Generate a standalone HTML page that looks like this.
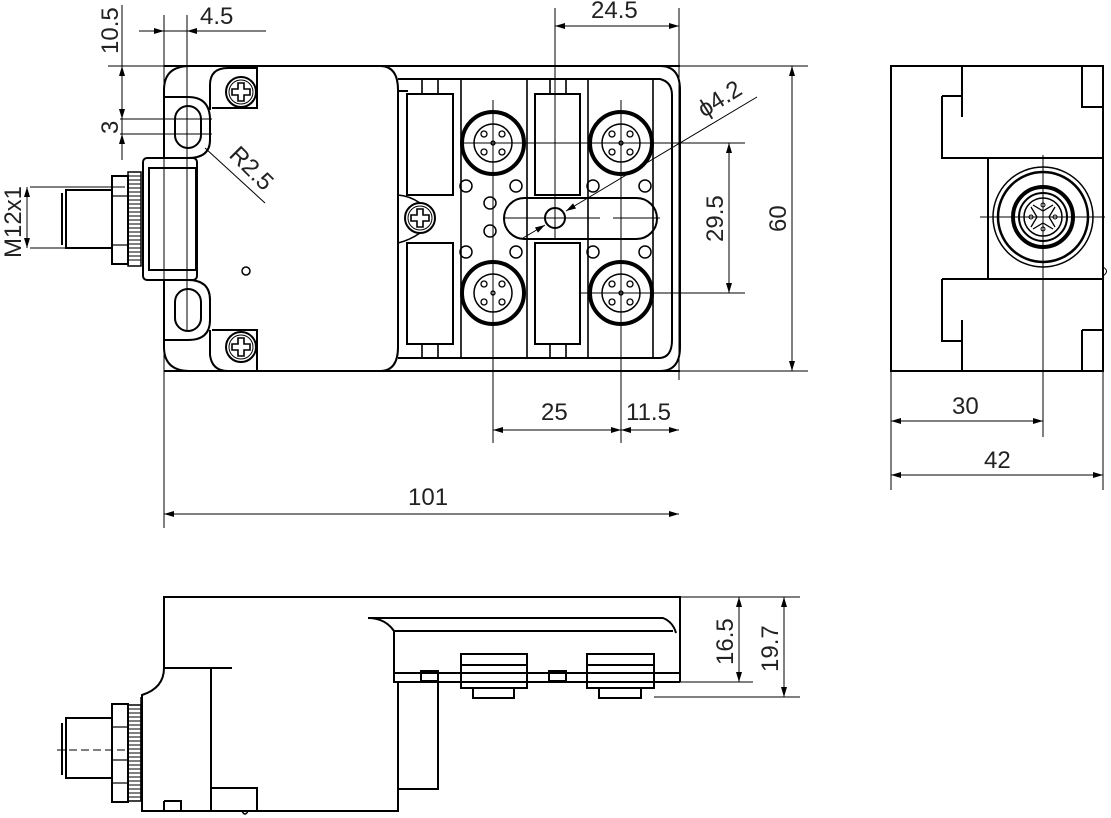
<!DOCTYPE html>
<html><head><meta charset="utf-8"><style>
html,body{margin:0;padding:0;background:#fff;}
svg{display:block;}
text{font-family:"Liberation Sans",sans-serif;font-size:24px;fill:#222;}
</style></head><body>
<svg width="1111" height="818" viewBox="0 0 1111 818" xmlns="http://www.w3.org/2000/svg">
<defs>
<marker id="a" viewBox="0 0 10 6" refX="10" refY="3" markerWidth="10" markerHeight="6" orient="auto-start-reverse" markerUnits="userSpaceOnUse"><path d="M0,0L10,3L0,6z" fill="#000"/></marker>
<g id="conn">
<circle r="31" fill="none" stroke="#000" stroke-width="4"/>
<circle r="19" fill="none" stroke="#000" stroke-width="1.5"/>
<circle cx="-9" cy="-9" r="3" fill="none" stroke="#000" stroke-width="1.3"/>
<circle cx="9" cy="-9" r="3" fill="none" stroke="#000" stroke-width="1.3"/>
<circle cx="-9" cy="9" r="3" fill="none" stroke="#000" stroke-width="1.3"/>
<circle cx="9" cy="9" r="3" fill="none" stroke="#000" stroke-width="1.3"/>
<circle r="2" fill="none" stroke="#000" stroke-width="1.3"/>
</g>
<g id="screw">
<circle r="15" fill="none" stroke="#000" stroke-width="2"/>
<circle r="12" fill="none" stroke="#000" stroke-width="1"/>
<path d="M-3,-9h6v6h6v6h-6v6h-6v-6h-6v-6h6z" fill="none" stroke="#000" stroke-width="1.6"/>
</g>
</defs>
<g fill="none" stroke="#000" stroke-width="2">
<line x1="164" y1="66" x2="680" y2="66"/>
<line x1="164" y1="371" x2="680" y2="371"/>
<path d="M164,90 Q164,66 190,66 M164,90 V158 M164,280 V347 Q164,371 190,371"/>
<path d="M380,66 Q398,66 398,90 V347 Q398,371 380,371"/>
<path d="M164,97 H188 Q210,97 210,120 V140 Q210,158 188,158 H164"/>
<path d="M164,280 H188 Q210,280 210,300 V320 Q210,340 188,340 H164"/>
<rect x="175" y="106" width="26" height="42" rx="13"/>
<rect x="175" y="289" width="26" height="42" rx="13"/>
<path d="M210,110 V85 Q210,68 228,68 H257 V66 M257,66 V70"/>
<path d="M212,108 H257 V70"/>
<path d="M210,330 V355 Q212,371 228,371 M212,330 H257 V371"/>
<circle cx="246" cy="271" r="4" stroke-width="1.5"/>
<rect x="143" y="158" width="54" height="122" rx="4"/>
<rect x="149" y="168" width="47" height="102"/>
<rect x="128" y="172" width="13" height="94" stroke-width="1.5"/>
<path d="M128,172H141" stroke-width="12" stroke-dasharray="1.5,2" transform="rotate(90 134.5 172) translate(0,0)" opacity="0"/>
<rect x="112" y="176" width="16" height="88"/>
<line x1="112" y1="196" x2="128" y2="196" stroke-width="1.2"/><line x1="112" y1="245" x2="128" y2="245" stroke-width="1.2"/>
<rect x="66" y="190" width="46" height="58"/>
<line x1="62" y1="193" x2="62" y2="245"/>
<path d="M660,66 Q680,66 680,90 V347 Q680,371 660,371"/>
<path d="M398,79 H660 Q672,82 672,95 V340 Q672,357 660,358 H398" stroke-width="2"/>
<line x1="398" y1="91" x2="408" y2="91"/>
<rect x="407" y="94" width="46" height="101"/>
<rect x="535" y="94" width="45" height="101"/>
<rect x="407" y="243" width="46" height="101"/>
<rect x="535" y="243" width="45" height="101"/>
<path d="M422,79V94M438,79V94M550,79V94M566,79V94M422,344V358M438,344V358M550,344V358M566,344V358" stroke-width="1.6"/>
<path d="M461,79V358M527,79V358M588,79V358M653,79V358" stroke-width="1.6"/>
<path d="M398,195 Q410,196 420,203 M398,243 Q410,240 420,233" stroke-width="1.5"/>
<rect x="504" y="198" width="153" height="41" rx="20.5"/>
<circle cx="555" cy="218" r="10"/>
<g stroke-width="1.5">
<circle cx="466" cy="186" r="6"/><circle cx="516" cy="186" r="6"/><circle cx="593" cy="186" r="6"/><circle cx="645" cy="186" r="6"/>
<circle cx="490" cy="203" r="6"/><circle cx="490" cy="231" r="6"/>
<circle cx="466" cy="252" r="6"/><circle cx="516" cy="252" r="6"/><circle cx="593" cy="252" r="6"/><circle cx="645" cy="252" r="6"/>
</g>
</g>
<g stroke="#000" stroke-width="1">
<path d="M128,176H141M128,180H141M128,184H141M128,188H141M128,192H141M128,196H141M128,200H141M128,204H141M128,208H141M128,212H141M128,216H141M128,220H141M128,224H141M128,228H141M128,232H141M128,236H141M128,240H141M128,244H141M128,248H141M128,252H141M128,256H141M128,260H141"/>
<path d="M128,709H141M128,713H141M128,717H141M128,721H141M128,725H141M128,729H141M128,733H141M128,737H141M128,741H141M128,745H141M128,749H141M128,753H141M128,757H141M128,761H141M128,765H141M128,769H141M128,773H141M128,777H141M128,781H141M128,785H141M128,789H141M128,793H141M128,797H141"/>
</g>
<use href="#conn" x="493" y="143"/><use href="#conn" x="621" y="143"/>
<use href="#conn" x="493" y="293"/><use href="#conn" x="621" y="293"/>
<use href="#screw" x="241" y="92"/><use href="#screw" x="241" y="347"/><use href="#screw" x="420" y="218"/>

<g stroke="#000" stroke-width="1" fill="none">
<path d="M460,143H745M580,293H745M493,100V443M621,100V443M555,8V240M679,8V380M164,15V528M187,15V330M108,66H808M680,371H808"/>
<path d="M120,119H212M120,134H212M30,187H125M30,248H112"/>
<line x1="505" y1="218" x2="600" y2="218"/><line x1="613" y1="218" x2="660" y2="218"/>
<line x1="139" y1="31" x2="266" y2="31"/>
<line x1="147" y1="31" x2="164" y2="31" marker-end="url(#a)"/>
<line x1="205" y1="31" x2="187" y2="31" marker-end="url(#a)"/>
<line x1="122" y1="5" x2="122" y2="160"/>
<line x1="122" y1="90" x2="122" y2="66" marker-end="url(#a)"/>
<line x1="122" y1="100" x2="122" y2="119" marker-end="url(#a)"/>
<line x1="122" y1="152" x2="122" y2="134" marker-end="url(#a)"/>
<line x1="205" y1="148" x2="265" y2="203"/>
<line x1="27" y1="187" x2="27" y2="248" marker-start="url(#a)" marker-end="url(#a)"/>
<line x1="555" y1="26" x2="679" y2="26" marker-start="url(#a)" marker-end="url(#a)"/>
<line x1="757" y1="97" x2="566" y2="211" marker-end="url(#a)"/>
<line x1="523" y1="238" x2="545" y2="225" marker-end="url(#a)"/>
<line x1="729" y1="143" x2="729" y2="293" marker-start="url(#a)" marker-end="url(#a)"/>
<line x1="792" y1="66" x2="792" y2="371" marker-start="url(#a)" marker-end="url(#a)"/>
<line x1="493" y1="430" x2="621" y2="430" marker-start="url(#a)" marker-end="url(#a)"/>
<line x1="621" y1="430" x2="679" y2="430" marker-start="url(#a)" marker-end="url(#a)"/>
<line x1="164" y1="514" x2="679" y2="514" marker-start="url(#a)" marker-end="url(#a)"/>
</g>
<text x="200" y="24">4.5</text>
<text x="591" y="18">24.5</text>
<text x="541" y="420">25</text>
<text x="626" y="420">11.5</text>
<text x="408" y="505">101</text>
<text transform="translate(118,54) rotate(-90)">10.5</text>
<text transform="translate(118,134) rotate(-90)">3</text>
<text transform="translate(21,258) rotate(-90)">M12x1</text>
<text transform="translate(723,242) rotate(-90)">29.5</text>
<text transform="translate(786,232) rotate(-90)">60</text>
<text transform="translate(228,156) rotate(45)">R2.5</text>
<text transform="translate(704,118) rotate(-32)">ϕ4.2</text>

<g fill="none" stroke="#000" stroke-width="2">
<rect x="891" y="66" width="212" height="305"/>
<path d="M962,66V117M942,96H962M942,96V158H1103M988,158V279M942,279H1103M942,279V341H962M962,320V371M1082,66V107H1103M1082,330H1103M1082,330V371"/>
<circle cx="1043" cy="217" r="50" stroke-width="1.5"/>
<circle cx="1043" cy="217" r="45" stroke-width="2.5"/>
<circle cx="1043" cy="217" r="30" stroke-width="4"/>
<circle cx="1043" cy="217" r="24" stroke-width="2"/>
<circle cx="1043" cy="217" r="19" stroke-width="1.5"/>
<path d="M1033,205l10,6l10,-6M1033,229l10,-6l10,6M1031,207l6,10l-6,10M1055,207l-6,10l6,10" stroke-width="1.3"/>
<circle cx="1043" cy="205" r="2" stroke-width="1"/><circle cx="1043" cy="229" r="2" stroke-width="1"/><circle cx="1031" cy="217" r="2" stroke-width="1"/><circle cx="1055" cy="217" r="2" stroke-width="1"/>
<path d="M1103,267 Q1110,271 1103,276" stroke-width="1"/>
</g>
<g stroke="#000" stroke-width="1" fill="none">
<path d="M980,217H1105M1043,155V437M891,371V490M1103,371V490"/>
<line x1="891" y1="421" x2="1043" y2="421" marker-start="url(#a)" marker-end="url(#a)"/>
<line x1="891" y1="475" x2="1103" y2="475" marker-start="url(#a)" marker-end="url(#a)"/>
</g>
<text x="952" y="414">30</text>
<text x="984" y="468">42</text>

<g fill="none" stroke="#000" stroke-width="2">
<path d="M164,668V597H680V682"/>
<path d="M164,668 Q164,688 142,695 V811 H398 V682"/>
<path d="M164,668H232M211,668V811M211,788H257V811M164,801H181V811M164,801V811"/>
<path d="M398,682V789H438V682"/>
<path d="M368,618H663 Q673,622 676,633 M368,618 Q385,618 394,631 H673 M394,631V682H680M394,673H680"/>
<rect x="461" y="654" width="66" height="34"/><line x1="461" y1="665" x2="527" y2="665"/>
<rect x="473" y="688" width="41" height="10"/>
<rect x="587" y="654" width="67" height="34"/><line x1="587" y1="665" x2="654" y2="665"/>
<rect x="599" y="688" width="42" height="10"/>
<rect x="421" y="671" width="17" height="10"/><rect x="549" y="671" width="17" height="10"/>
<rect x="128" y="705" width="13" height="96" stroke-width="1.5"/>
<rect x="112" y="704" width="16" height="98"/>
<line x1="112" y1="727" x2="128" y2="727" stroke-width="1.2"/><line x1="112" y1="760" x2="128" y2="760" stroke-width="1.2"/><line x1="112" y1="783" x2="128" y2="783" stroke-width="1.2"/>
<rect x="66" y="718" width="46" height="60"/>
<line x1="62" y1="723" x2="62" y2="775"/>
<path d="M141,697V800" stroke-width="1.5"/>
<path d="M242,811 q3,6 6,0" stroke-width="1.5"/>
</g>
<g stroke="#000" stroke-width="1" fill="none">
<line x1="57" y1="750" x2="125" y2="750" stroke-dasharray="8,4"/>
<path d="M680,597H800M680,682H753M654,697H800"/>
<line x1="739" y1="597" x2="739" y2="682" marker-start="url(#a)" marker-end="url(#a)"/>
<line x1="784" y1="597" x2="784" y2="697" marker-start="url(#a)" marker-end="url(#a)"/>
</g>
<text transform="translate(733,665) rotate(-90)">16.5</text>
<text transform="translate(778,672) rotate(-90)">19.7</text>
</svg>
</body></html>
